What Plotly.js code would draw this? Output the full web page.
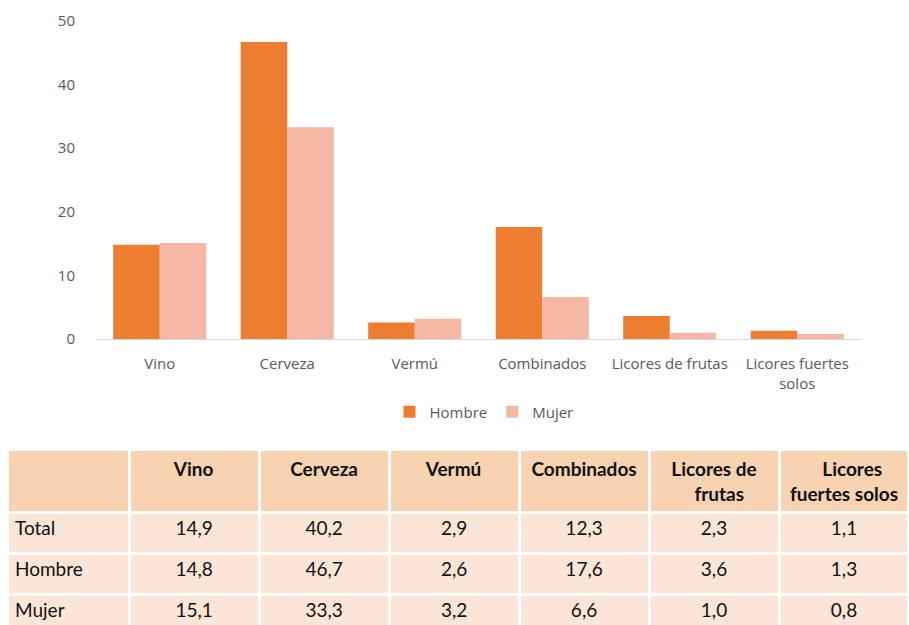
<!DOCTYPE html>
<html>
<head>
<meta charset="utf-8">
<script src="https://cdn.plot.ly/plotly-3.0.1.min.js"></script>
<style>html,body{margin:0;padding:0;background:#fff;}#chart{width:909px;height:625px;}</style>
</head>
<body>
<div id="chart"></div>
<script>
// Categories (chart axis labels and table headers)
const categories = ["Vino", "Cerveza", "Vermú", "Combinados", "Licores de frutas", "Licores fuertes solos"];
const axisLabels = ["Vino", "Cerveza", "Vermú", "Combinados", "Licores de frutas", "Licores fuertes<br>solos"];
const tableHeaders = ["", "Vino", "Cerveza", "Vermú", "Combinados",
  "Licores de<br>&nbsp;&nbsp;&nbsp;&nbsp;&nbsp;frutas",
  "&nbsp;&nbsp;&nbsp;&nbsp;&nbsp;&nbsp;&nbsp;Licores<br>fuertes solos"];
const rowLabels = ["Total", "Hombre", "Mujer"];

// Series values (%)
const total  = [14.9, 40.2, 2.9, 12.3, 2.3, 1.1];
const hombre = [14.8, 46.7, 2.6, 17.6, 3.6, 1.3];
const mujer  = [15.1, 33.3, 3.2, 6.6, 1.0, 0.8];

const fmt = v => v.toFixed(1).replace('.', ',');

const W = 909, H = 625;
const gray = '#595959';

const barHombre = {
  type: 'bar', name: 'Hombre', x: categories, y: hombre,
  marker: {color: '#ED7D31'}, hoverinfo: 'x+y'
};
const barMujer = {
  type: 'bar', name: 'Mujer', x: categories, y: mujer,
  marker: {color: '#F4B8A4'}, hoverinfo: 'x+y'
};

// Table columns built from the series arrays
const tableCols = [rowLabels];
for (let i = 0; i < categories.length; i++) {
  tableCols.push([fmt(total[i]), fmt(hombre[i]), fmt(mujer[i])]);
}

const tableFont = 'Lato, "Open Sans", sans-serif';
const table = {
  type: 'table',
  domain: {x: [7 / W, 1], y: [0, (H - 449) / H]},
  columnwidth: [124, 132, 132, 132, 132, 132, 132],
  header: {
    values: tableHeaders.map(t => '<b>' + t + '</b>'),
    align: 'center',
    height: 50,
    fill: {color: '#F8D3B2'},
    line: {color: '#ffffff', width: 3},
    font: {family: tableFont, size: 19, color: '#111111'}
  },
  cells: {
    values: tableCols,
    align: ['left', 'center', 'center', 'center', 'center', 'center', 'center'],
    height: 41,
    fill: {color: '#FBE5D7'},
    line: {color: '#ffffff', width: 3},
    font: {family: tableFont, size: 19, color: '#111111'}
  }
};

const layout = {
  width: W, height: H,
  margin: {l: 0, r: 0, t: 0, b: 0},
  paper_bgcolor: '#ffffff', plot_bgcolor: '#ffffff',
  font: {family: '"Open Sans", sans-serif', color: gray, size: 15},
  barmode: 'group', bargap: 0.27, bargroupgap: 0,
  showlegend: true,
  legend: {
    orientation: 'h', x: 484 / W, xanchor: 'center', y: 1 - 412 / H, yanchor: 'middle',
    font: {size: 15, color: gray}, itemwidth: 30
  },
  xaxis: {
    domain: [96 / W, 861 / W],
    type: 'category',
    tickmode: 'array', tickvals: categories, ticktext: axisLabels,
    showline: true, linecolor: '#D9D9D9', linewidth: 1,
    ticks: '', showgrid: false, zeroline: false,
    ticklabelstandoff: 11,
    tickfont: {size: 15, color: gray},
    automargin: false, fixedrange: true
  },
  yaxis: {
    domain: [(H - 339) / H, (H - 21) / H],
    range: [0, 50], dtick: 10, tick0: 0,
    showgrid: false, zeroline: false, showline: false, ticks: '',
    ticklabelstandoff: 20,
    tickfont: {size: 15, color: gray},
    automargin: false, fixedrange: true
  }
};

Plotly.newPlot('chart', [barHombre, barMujer, table], layout, {displayModeBar: false, staticPlot: true});
</script>
</body>
</html>
